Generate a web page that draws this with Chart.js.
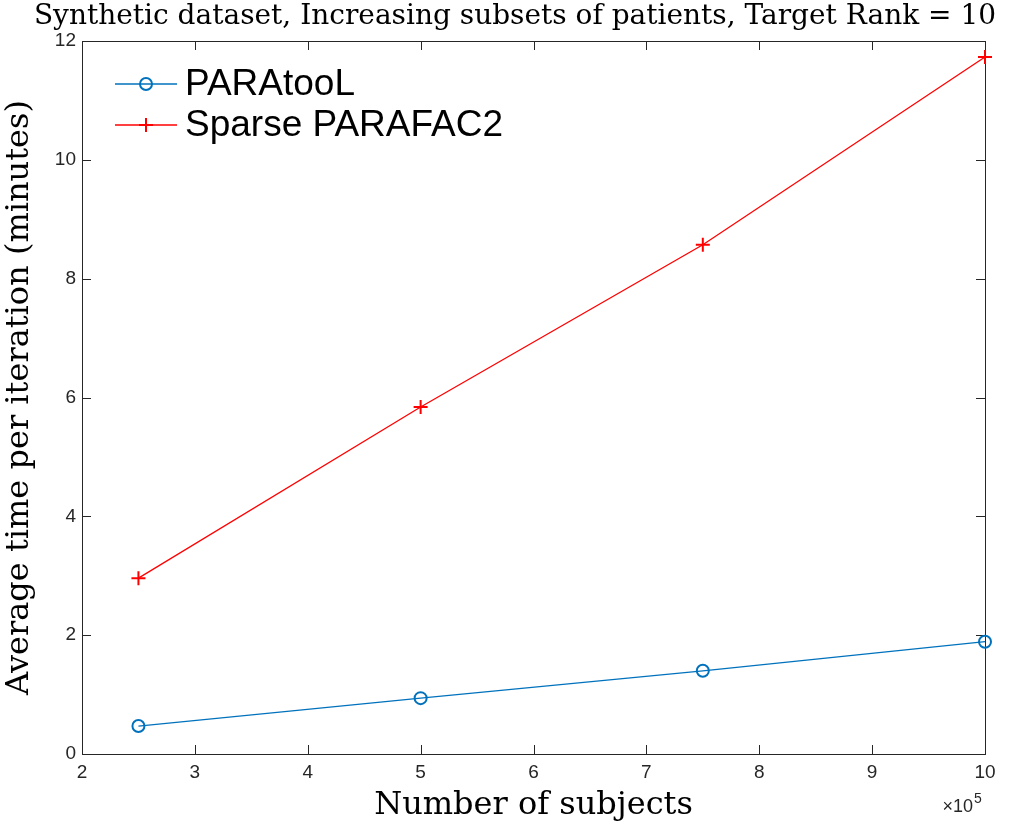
<!DOCTYPE html>
<html>
<head>
<meta charset="utf-8">
<script src="https://cdn.jsdelivr.net/npm/chart.js@4.4.1/dist/chart.umd.min.js"></script>
<style>
html,body{margin:0;padding:0;background:#fff;}
#wrap{width:1030px;height:832px;}
</style>
</head>
<body>
<div id="wrap"><canvas id="c" width="1030" height="832"></canvas></div>
<script>
// ---- data ----
const subjectCounts = [2.5, 5, 7.5, 10];          // x10^5
const paratoolTimes = [0.47, 0.94, 1.40, 1.89];   // minutes
const sparseTimes   = [2.96, 5.84, 8.57, 11.73];  // minutes
const seriesNames   = ['PARAtooL', 'Sparse PARAFAC2'];
const xTickValues   = [2, 3, 4, 5, 6, 7, 8, 9, 10];
const yTickValues   = [0, 2, 4, 6, 8, 10, 12];
const chartTitle    = 'Synthetic dataset, Increasing subsets of patients, Target Rank = 10';
const xAxisTitle    = 'Number of subjects';
const yAxisTitle    = 'Average time per iteration (minutes)';

const BLUE = '#0072BD', RED = '#FF0000', AXIS = '#262626';
const toPts = (ys) => subjectCounts.map((x, i) => ({x: x, y: ys[i]}));

const boxPlugin = {
  id: 'boxTicks',
  beforeDatasetsDraw(chart) {
    const {ctx, chartArea: a, scales: {x, y}} = chart;
    ctx.save();
    ctx.strokeStyle = AXIS;
    ctx.lineWidth = 1;
    ctx.strokeRect(Math.round(a.left) + 0.5, Math.round(a.top) + 0.5,
                   Math.round(a.right - a.left), Math.round(a.bottom - a.top));
    const L = 9;
    ctx.beginPath();
    xTickValues.forEach(v => {
      const px = Math.round(x.getPixelForValue(v)) + 0.5;
      ctx.moveTo(px, a.bottom); ctx.lineTo(px, a.bottom - L);
      ctx.moveTo(px, a.top); ctx.lineTo(px, a.top + L);
    });
    yTickValues.forEach(v => {
      const py = Math.round(y.getPixelForValue(v)) + 0.5;
      ctx.moveTo(a.left, py); ctx.lineTo(a.left + L, py);
      ctx.moveTo(a.right, py); ctx.lineTo(a.right - L, py);
    });
    ctx.stroke();
    ctx.restore();
  },
  afterDraw(chart) {
    const {ctx, chartArea: a} = chart;
    ctx.save();
    // exponent label
    ctx.fillStyle = AXIS;
    ctx.textBaseline = 'alphabetic';
    ctx.textAlign = 'right';
    ctx.font = '18px "Liberation Sans"';
    ctx.fillText('\u00d710', a.right - 12, a.bottom + 58);
    ctx.textAlign = 'left';
    ctx.font = '14px "Liberation Sans"';
    ctx.fillText('5', a.right - 11, a.bottom + 49);
    // legend
    const lx = a.left + 33, lineLen = 62;
    const rows = [a.top + 43, a.top + 84];
    chart.data.datasets.forEach((ds, i) => {
      const yy = rows[i];
      ctx.strokeStyle = ds.borderColor;
      ctx.lineWidth = 1.3;
      ctx.beginPath();
      ctx.moveTo(lx, yy); ctx.lineTo(lx + lineLen, yy);
      ctx.stroke();
      const cx = lx + lineLen / 2;
      ctx.lineWidth = 2;
      ctx.beginPath();
      if (ds.pointStyle === 'circle') {
        ctx.arc(cx, yy, ds.pointRadius, 0, Math.PI * 2);
      } else {
        ctx.moveTo(cx - ds.pointRadius, yy); ctx.lineTo(cx + ds.pointRadius, yy);
        ctx.moveTo(cx, yy - ds.pointRadius); ctx.lineTo(cx, yy + ds.pointRadius);
      }
      ctx.stroke();
      ctx.fillStyle = '#000';
      ctx.font = '37px "Liberation Sans"';
      ctx.textAlign = 'left';
      ctx.textBaseline = 'middle';
      ctx.fillText(ds.label, lx + lineLen + 8, yy + 1);
    });
    ctx.restore();
  }
};

new Chart(document.getElementById('c'), {
  type: 'line',
  data: {
    datasets: [
      {label: seriesNames[0], data: toPts(paratoolTimes), borderColor: BLUE, backgroundColor: 'rgba(0,0,0,0)',
       borderWidth: 1.3, pointStyle: 'circle', pointRadius: 6, pointBorderWidth: 2,
       pointBackgroundColor: 'rgba(0,0,0,0)', pointBorderColor: BLUE, tension: 0, clip: false},
      {label: seriesNames[1], data: toPts(sparseTimes), borderColor: RED, backgroundColor: 'rgba(0,0,0,0)',
       borderWidth: 1.3, pointStyle: 'cross', pointRadius: 7, pointBorderWidth: 2,
       pointBackgroundColor: RED, pointBorderColor: RED, tension: 0, clip: false}
    ]
  },
  options: {
    responsive: false,
    animation: false,
    events: [],
    layout: {padding: {left: 0, right: 0, top: 0, bottom: 0}},
    plugins: {
      legend: {display: false},
      tooltip: {enabled: false},
      title: {display: true, text: chartTitle, color: '#000',
              font: {family: 'DejaVu Serif', size: 28, weight: 'normal'},
              padding: {top: 0, bottom: 7.4}}
    },
    scales: {
      x: {
        type: 'linear', min: 2, max: 10,
        afterBuildTicks: (s) => { s.ticks = xTickValues.map(v => ({value: v})); },
        ticks: {color: AXIS, font: {family: 'Liberation Sans', size: 19}, padding: 7, maxRotation: 0},
        grid: {display: false, drawTicks: false},
        border: {display: false},
        title: {display: true, text: xAxisTitle, color: '#000',
                font: {family: 'DejaVu Serif', size: 32, weight: 'normal'}, padding: {top: 0, bottom: 7}},
        afterFit: (s) => { s.height = 78; }
      },
      y: {
        type: 'linear', min: 0, max: 12,
        afterBuildTicks: (s) => { s.ticks = yTickValues.map(v => ({value: v})); },
        ticks: {color: AXIS, font: {family: 'Liberation Sans', size: 19}, padding: 6},
        grid: {display: false, drawTicks: false},
        border: {display: false},
        title: {display: true, text: yAxisTitle, color: '#000',
                font: {family: 'DejaVu Serif', size: 32, weight: 'normal'}, padding: {top: 0, bottom: 0}},
        afterFit: (s) => { s.width = 82; }
      },
      yRight: {
        type: 'linear', position: 'right', min: 0, max: 12,
        ticks: {display: false},
        grid: {display: false, drawTicks: false},
        border: {display: false},
        afterFit: (s) => { s.width = 45; }
      }
    }
  },
  plugins: [boxPlugin]
});
</script>
</body>
</html>
